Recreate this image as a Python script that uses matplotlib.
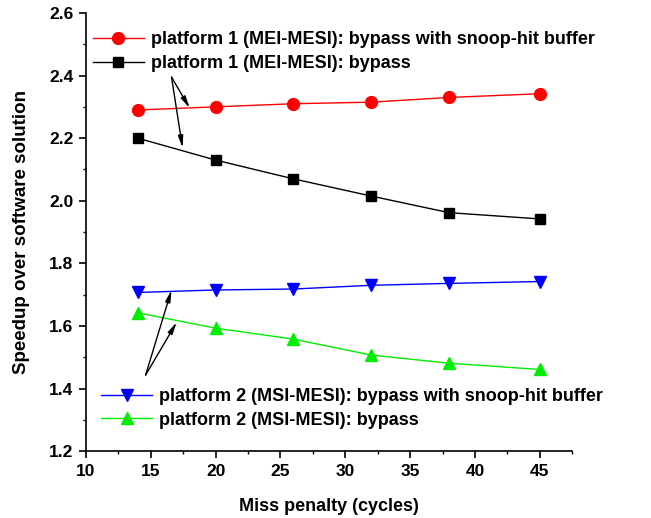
import matplotlib
matplotlib.use("Agg")
import matplotlib.pyplot as plt
from matplotlib.ticker import MultipleLocator, FormatStrFormatter

plt.rcParams['font.family'] = ['Liberation Sans', 'DejaVu Sans']
plt.rcParams['font.weight'] = 'bold'

miss_penalty = [14, 20, 26, 32, 38, 45]
p1_snoop = [2.29, 2.30, 2.31, 2.315, 2.33, 2.342]
p1_bypass = [2.20, 2.13, 2.07, 2.015, 1.962, 1.942]
p2_snoop = [1.707, 1.715, 1.718, 1.73, 1.736, 1.742]
p2_bypass = [1.642, 1.593, 1.558, 1.507, 1.481, 1.461]

labels = ["platform 1 (MEI-MESI): bypass with snoop-hit buffer",
          "platform 1 (MEI-MESI): bypass",
          "platform 2 (MSI-MESI): bypass with snoop-hit buffer",
          "platform 2 (MSI-MESI): bypass"]

fig = plt.figure(figsize=(6.51, 5.18), dpi=100)
ax = fig.add_axes([0.132, 0.129, 0.747, 0.846])

l1, = ax.plot(miss_penalty, p1_snoop, color='red', marker='o', markersize=8.5, lw=1)
l2, = ax.plot(miss_penalty, p1_bypass, color='black', marker='s', markersize=7, lw=1)
l3, = ax.plot(miss_penalty, p2_snoop, color='blue', marker='v', markersize=8.5, lw=1)
l4, = ax.plot(miss_penalty, p2_bypass, color='#00ee00', marker='^', markersize=8.5, lw=1)

ax.set_xlim(10, 47.5)
ax.set_ylim(1.2, 2.6)
ax.xaxis.set_major_locator(MultipleLocator(5))
ax.xaxis.set_minor_locator(MultipleLocator(2.5))
ax.yaxis.set_major_locator(MultipleLocator(0.2))
ax.yaxis.set_minor_locator(MultipleLocator(0.1))
ax.yaxis.set_major_formatter(FormatStrFormatter('%.1f'))
for s in ['top', 'right']:
    ax.spines[s].set_visible(False)
for s in ['left', 'bottom']:
    ax.spines[s].set_linewidth(1.2)
ax.tick_params(which='major', direction='out', length=5, width=1.2, labelsize=12.5, pad=4)
ax.tick_params(which='minor', direction='out', length=2.5, width=1.0)
for lab in ax.get_xticklabels() + ax.get_yticklabels():
    lab.set_fontweight('bold')

ax.set_xlabel("Miss penalty (cycles)", fontsize=13, fontweight='bold', labelpad=14)
ax.set_ylabel("Speedup over software solution", fontsize=13.5, fontweight='bold', labelpad=14)

leg1 = ax.legend([l1, l2], labels[:2], loc='upper left', bbox_to_anchor=(0.0, 0.975),
                 frameon=False, prop={'weight': 'bold', 'size': 13},
                 handlelength=2.8, handletextpad=0.4, labelspacing=0.4, borderaxespad=0.0)
ax.add_artist(leg1)
ax.legend([l3, l4], labels[2:], loc='lower left', bbox_to_anchor=(0.017, 0.035),
          frameon=False, prop={'weight': 'bold', 'size': 13},
          handlelength=2.8, handletextpad=0.4, labelspacing=0.35, borderaxespad=0.0)

arrow = dict(arrowstyle='-|>,head_length=0.7,head_width=0.15', color='black', lw=1,
             shrinkA=0, shrinkB=0)
ax.annotate('', xy=(18.0, 2.296), xytext=(16.6, 2.395), arrowprops=arrow)
ax.annotate('', xy=(17.45, 2.169), xytext=(16.6, 2.395), arrowprops=arrow)
ax.annotate('', xy=(16.6, 1.715), xytext=(14.6, 1.443), arrowprops=arrow)
ax.annotate('', xy=(17.0, 1.612), xytext=(14.6, 1.443), arrowprops=arrow)

fig.savefig('out.png', dpi=100)
